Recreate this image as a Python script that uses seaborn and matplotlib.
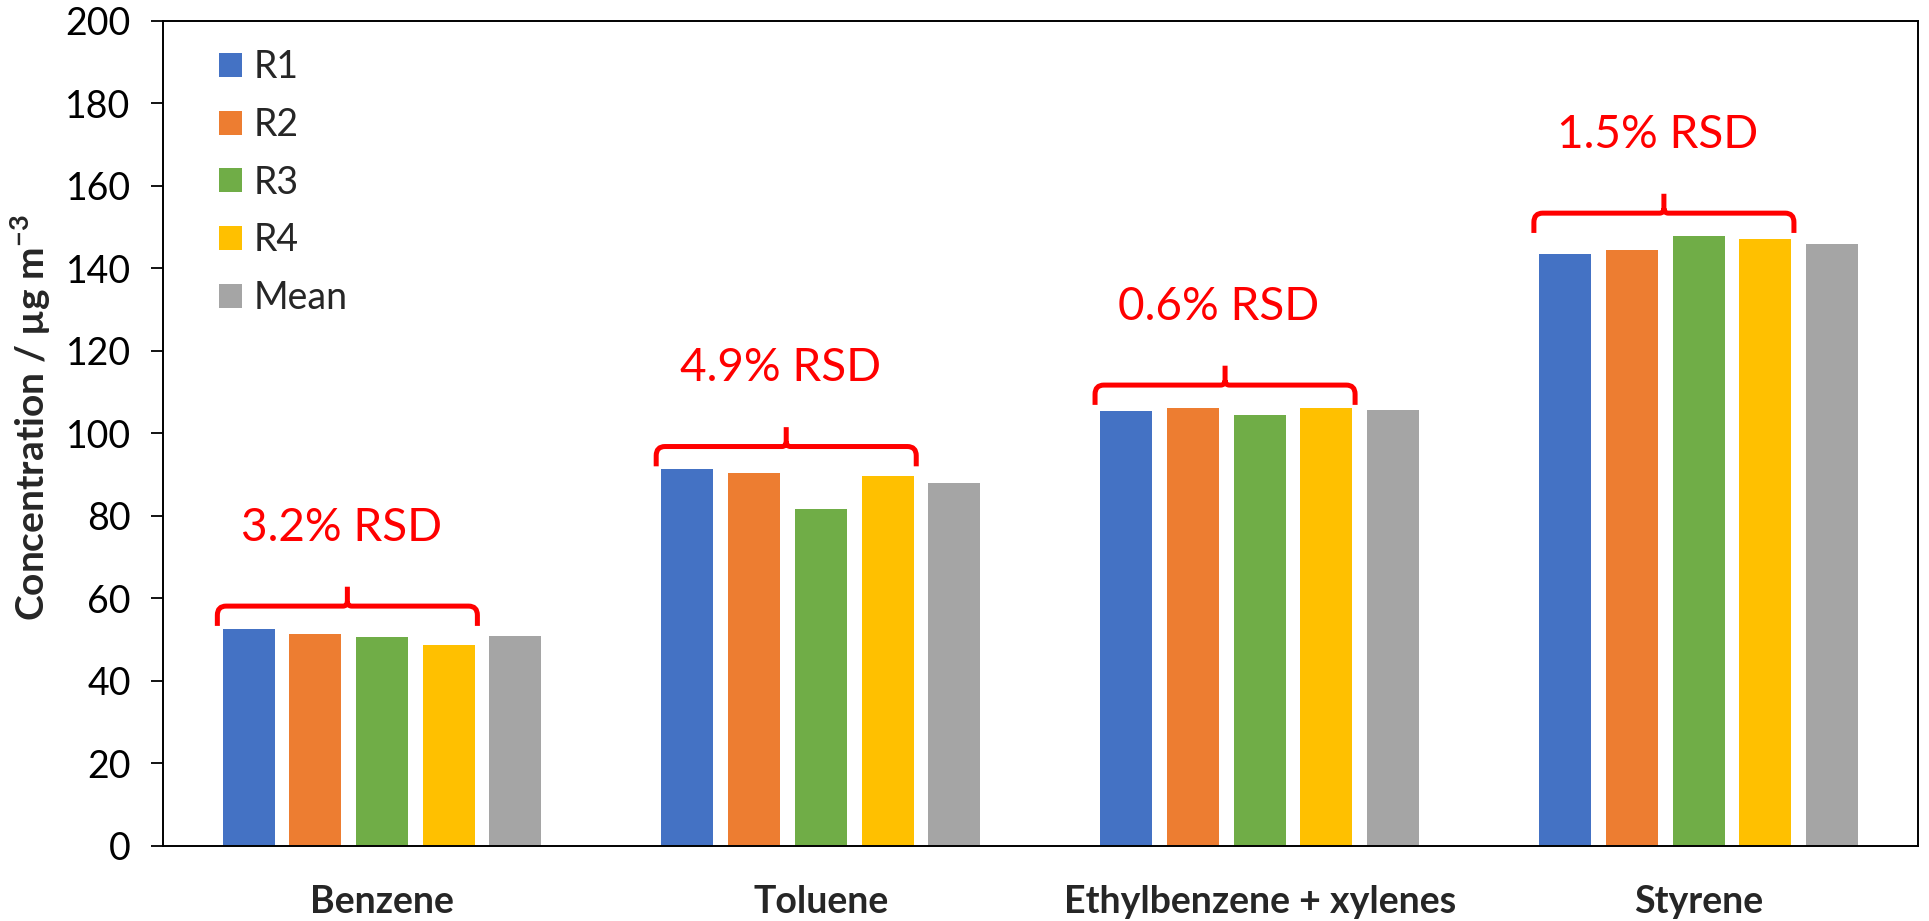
import numpy as np
import pandas as pd
import matplotlib
matplotlib.use("Agg")
import matplotlib.pyplot as plt
from matplotlib.path import Path
from matplotlib.patches import PathPatch
import seaborn as sns

# Measured concentrations (µg m-3) for four replicate runs and their mean
compounds = ["Benzene", "Toluene", "Ethylbenzene + xylenes", "Styrene"]
r1 = [52.6, 91.3, 105.3, 143.5]
r2 = [51.4, 90.5, 106.2, 144.4]
r3 = [50.6, 81.7, 104.5, 147.9]
r4 = [48.6, 89.7, 106.2, 147.2]
mean = [50.9, 88.0, 105.7, 146.0]
series_names = ["R1", "R2", "R3", "R4", "Mean"]
rsd_labels = ["3.2% RSD", "4.9% RSD", "0.6% RSD", "1.5% RSD"]

colors = ["#4472C4", "#ED7D31", "#70AD47", "#FFC000", "#A5A5A5"]
red = "#FF0000"

sns.set_theme(style="white")
plt.rcParams["font.family"] = ["Lato", "DejaVu Sans"]

records = []
for name, vals in zip(series_names, [r1, r2, r3, r4, mean]):
    for comp, v in zip(compounds, vals):
        records.append({"compound": comp, "series": name, "value": v})
df = pd.DataFrame(records)

fig = plt.figure(figsize=(19.29, 9.21), dpi=100)
ax = fig.add_axes([0.0843, 0.0818, 0.9100, 0.8954])

sns.barplot(data=df, x="compound", y="value", hue="series", order=compounds,
            hue_order=series_names, palette=colors, saturation=1,
            width=0.76, gap=0.22, linewidth=0, errorbar=None, ax=ax)

ax.set_ylim(0, 200)
ax.set_yticks(np.arange(0, 201, 20))
ax.set_xlim(-0.5, len(compounds) - 0.5)
ax.tick_params(axis="y", which="both", left=True, length=9, width=1.3,
               direction="out", labelsize=27, pad=14, colors="black")
ax.tick_params(axis="x", bottom=False, labelsize=27, pad=22)
for lab in ax.get_xticklabels():
    lab.set_fontweight("bold")
ax.set_xlabel("")
ax.set_ylabel("Concentration / µg m$^{\\mathregular{-3}}$", fontsize=28,
              fontweight="bold")
ax.yaxis.set_label_coords(-0.0625, 0.519)
for sp in ax.spines.values():
    sp.set_visible(True)
    sp.set_color("black")
    sp.set_linewidth(1.4)

# Curly bracket over the replicate bars of each compound
def bracket(ax, x0, x1, yb, drop, rise, rx, ry, tx, ty):
    xm = (x0 + x1) / 2
    verts = [
        (x0, yb - drop), (x0, yb - ry),
        (x0, yb), (x0 + rx, yb),
        (xm - tx, yb),
        (xm, yb), (xm, yb + ty),
        (xm, yb + rise),
        (xm, yb + ty),
        (xm, yb), (xm + tx, yb),
        (x1 - rx, yb),
        (x1, yb), (x1, yb - ry),
        (x1, yb - drop),
    ]
    codes = [Path.MOVETO, Path.LINETO,
             Path.CURVE3, Path.CURVE3,
             Path.LINETO,
             Path.CURVE3, Path.CURVE3,
             Path.LINETO,
             Path.MOVETO,
             Path.CURVE3, Path.CURVE3,
             Path.LINETO,
             Path.CURVE3, Path.CURVE3,
             Path.LINETO]
    patch = PathPatch(Path(verts, codes), facecolor="none", edgecolor=red,
                      linewidth=3.6, capstyle="butt", joinstyle="round")
    ax.add_patch(patch)

first_bars = ax.containers[0]
fourth_bars = ax.containers[3]
for i, comp in enumerate(compounds):
    b_first = first_bars[i]
    b_fourth = fourth_bars[i]
    x0 = b_first.get_x() - 0.012
    x1 = b_fourth.get_x() + b_fourth.get_width() + 0.006
    top = max(r1[i], r2[i], r3[i], r4[i])
    yb = top + 5.5
    bracket(ax, x0, x1, yb, drop=4.8, rise=4.7, rx=0.02, ry=2.2,
            tx=0.01, ty=1.2)
    ax.text((x0 + x1) / 2 - 0.014, yb + 19, rsd_labels[i], color=red,
            fontsize=33, ha="center", va="center")

leg = ax.legend(loc="upper left", bbox_to_anchor=(0.032, 0.966), frameon=False,
                fontsize=27, handlelength=0.61, handleheight=0.61,
                handletextpad=0.32, labelspacing=0.58, borderpad=0,
                borderaxespad=0)

fig.savefig("out.png", dpi=100, facecolor="white")
